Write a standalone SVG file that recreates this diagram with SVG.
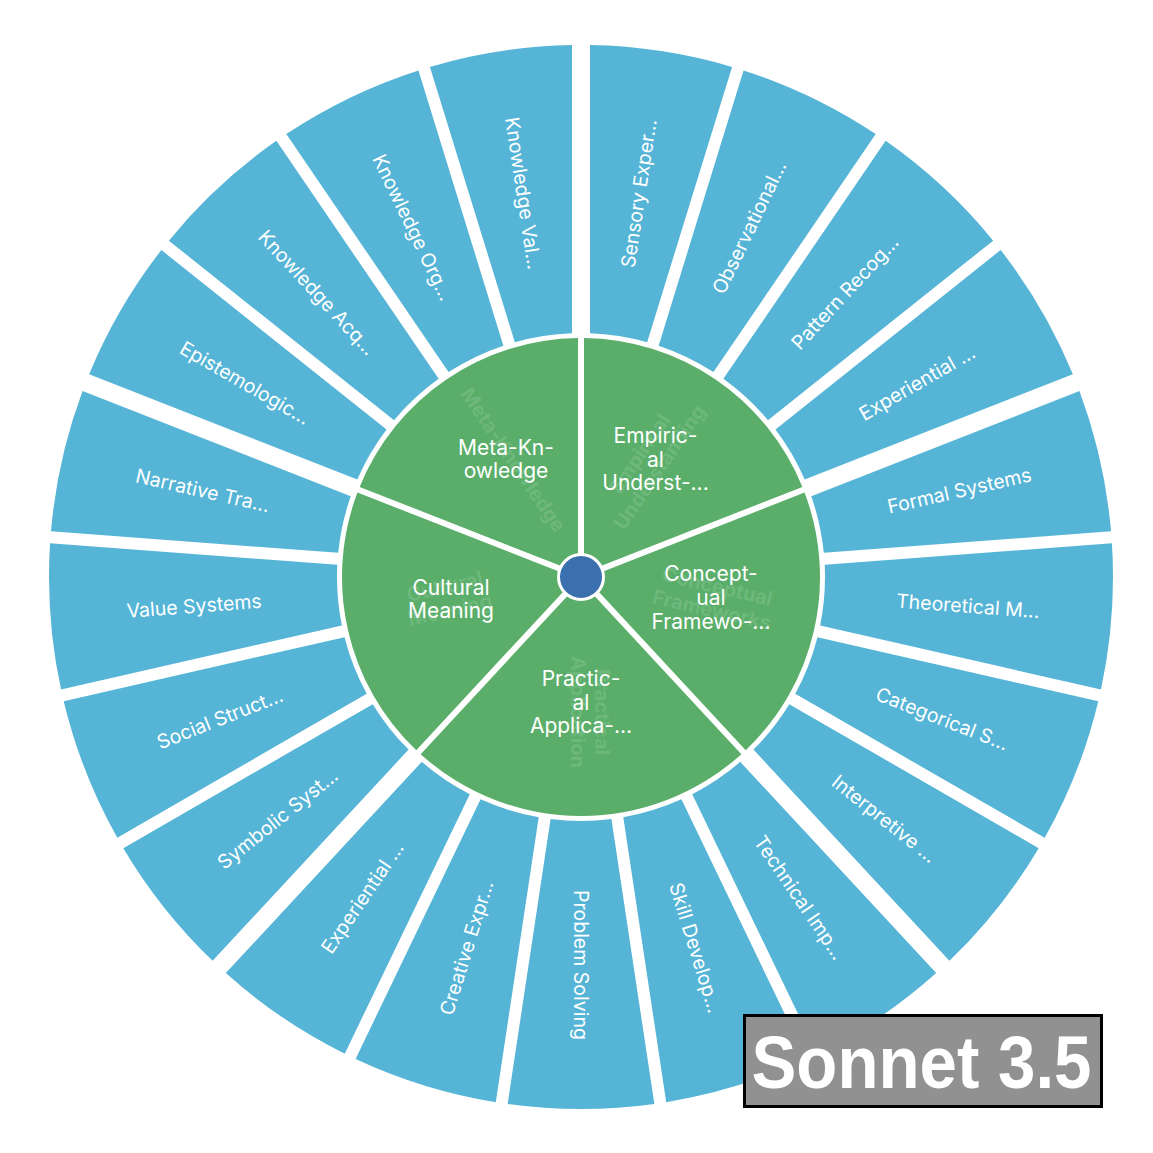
<svg xmlns="http://www.w3.org/2000/svg" width="1153" height="1153" viewBox="0 0 1153 1153">
<style>
.b{fill:#56b5d6}
.g{fill:#5aae6a}
.bl{font-family:Inter,"Noto Sans",sans-serif;font-size:19.5px;fill:#fff;text-anchor:middle}
.gl{font-family:Inter,"Noto Sans",sans-serif;font-size:21px;fill:#fff;text-anchor:middle}
.gh{font-family:Inter,"Noto Sans",sans-serif;font-weight:700;font-size:20px;fill:#fff;fill-opacity:0.12;text-anchor:middle}
</style>
<defs>
<path id="sF" d="M 9 -531.924 A 532 532 0 0 1 151.066 -510.101 L 66.165 -234.858 A 244 244 0 0 0 9 -243.834 Z"/>
<path id="sM" d="M 6 -531.966 A 532 532 0 0 1 151.066 -510.101 L 66.165 -234.858 A 244 244 0 0 0 6 -243.926 Z"/>
<path id="sL" d="M 6 -531.966 A 532 532 0 0 1 148.187 -510.945 L 63.271 -235.654 A 244 244 0 0 0 6 -243.926 Z"/>
<path id="g4" d="M 3 -238.981 A 239 239 0 0 1 221.365 -90.102 L 17.311 -10.017 A 20 20 0 0 0 3 -19.774 Z"/>
<path id="g5" d="M 3 -238.981 A 239 239 0 0 1 238.089 -20.851 L 19.494 -4.469 A 20 20 0 0 0 3 -19.774 Z"/>
</defs>
<rect width="1153" height="1153" fill="#fff"/>
<g transform="translate(581 577)">
<g id="outer-ring">
<g id="n-sensory"><use href="#sF" class="b" transform="rotate(0)"/><text class="bl" dy="0.35em" transform="rotate(8.5714) translate(0 -388) rotate(-90)">Sensory Exper...</text></g>
<g id="n-observational"><use href="#sM" class="b" transform="rotate(17.1429)"/><text class="bl" dy="0.35em" transform="rotate(25.7143) translate(0 -388) rotate(-90)">Observational...</text></g>
<g id="n-pattern"><use href="#sM" class="b" transform="rotate(34.2857)"/><text class="bl" dy="0.35em" transform="rotate(42.8571) translate(0 -388) rotate(-90)">Pattern Recog...</text></g>
<g id="n-experiential1"><use href="#sL" class="b" transform="rotate(51.4286)"/><text class="bl" dy="0.35em" transform="rotate(60) translate(0 -388) rotate(-90)">Experiential ...</text></g>
<g id="n-formal"><use href="#sF" class="b" transform="rotate(68.5714)"/><text class="bl" dy="0.35em" transform="rotate(77.1429) translate(0 -388) rotate(-90)">Formal Systems</text></g>
<g id="n-theoretical"><use href="#sM" class="b" transform="rotate(85.7143)"/><text class="bl" dy="0.35em" transform="rotate(94.2857) translate(0 -388) rotate(-90)">Theoretical M...</text></g>
<g id="n-categorical"><use href="#sM" class="b" transform="rotate(102.8571)"/><text class="bl" dy="0.35em" transform="rotate(111.4286) translate(0 -388) rotate(-90)">Categorical S...</text></g>
<g id="n-interpretive"><use href="#sL" class="b" transform="rotate(120)"/><text class="bl" dy="0.35em" transform="rotate(128.5714) translate(0 -388) rotate(-90)">Interpretive ...</text></g>
<g id="n-technical"><use href="#sF" class="b" transform="rotate(137.1429)"/><text class="bl" dy="0.35em" transform="rotate(145.7143) translate(0 -388) rotate(-90)">Technical Imp...</text></g>
<g id="n-skill"><use href="#sM" class="b" transform="rotate(154.2857)"/><text class="bl" dy="0.35em" transform="rotate(162.8571) translate(0 -388) rotate(-90)">Skill Develop...</text></g>
<g id="n-problem"><use href="#sM" class="b" transform="rotate(171.4286)"/><text class="bl" dy="0.35em" transform="rotate(180) translate(0 -388) rotate(-90)">Problem Solving</text></g>
<g id="n-creative"><use href="#sM" class="b" transform="rotate(188.5714)"/><text class="bl" dy="0.35em" transform="rotate(197.1429) translate(0 -388) rotate(90)">Creative Expr...</text></g>
<g id="n-experiential2"><use href="#sL" class="b" transform="rotate(205.7143)"/><text class="bl" dy="0.35em" transform="rotate(214.2857) translate(0 -388) rotate(90)">Experiential ...</text></g>
<g id="n-symbolic"><use href="#sF" class="b" transform="rotate(222.8571)"/><text class="bl" dy="0.35em" transform="rotate(231.4286) translate(0 -388) rotate(90)">Symbolic Syst...</text></g>
<g id="n-social"><use href="#sM" class="b" transform="rotate(240)"/><text class="bl" dy="0.35em" transform="rotate(248.5714) translate(0 -388) rotate(90)">Social Struct...</text></g>
<g id="n-value"><use href="#sM" class="b" transform="rotate(257.1429)"/><text class="bl" dy="0.35em" transform="rotate(265.7143) translate(0 -388) rotate(90)">Value Systems</text></g>
<g id="n-narrative"><use href="#sL" class="b" transform="rotate(274.2857)"/><text class="bl" dy="0.35em" transform="rotate(282.8571) translate(0 -388) rotate(90)">Narrative Tra...</text></g>
<g id="n-epistemologic"><use href="#sF" class="b" transform="rotate(291.4286)"/><text class="bl" dy="0.35em" transform="rotate(300) translate(0 -388) rotate(90)">Epistemologic...</text></g>
<g id="n-kacq"><use href="#sM" class="b" transform="rotate(308.5714)"/><text class="bl" dy="0.35em" transform="rotate(317.1429) translate(0 -388) rotate(90)">Knowledge Acq...</text></g>
<g id="n-korg"><use href="#sM" class="b" transform="rotate(325.7143)"/><text class="bl" dy="0.35em" transform="rotate(334.2857) translate(0 -388) rotate(90)">Knowledge Org...</text></g>
<g id="n-kval"><use href="#sL" class="b" transform="rotate(342.8571)"/><text class="bl" dy="0.35em" transform="rotate(351.4286) translate(0 -388) rotate(90)">Knowledge Val...</text></g>
</g>
<g id="inner-ring">
<g id="n-empirical"><use href="#g4" class="g" transform="rotate(0)"/><text class="gh" transform="rotate(34.2857) translate(0 -135) rotate(-90)"><tspan x="0" y="-14">Empirical</tspan><tspan x="0" y="10">Understanding</tspan></text></g>
<g id="n-conceptual"><use href="#g4" class="g" transform="rotate(68.5714)"/><text class="gh" transform="rotate(102.8571) translate(0 -135) rotate(-90)"><tspan x="0" y="-14">Conceptual</tspan><tspan x="0" y="10">Frameworks</tspan></text></g>
<g id="n-practical"><use href="#g5" class="g" transform="rotate(137.1429)"/><text class="gh" transform="rotate(180) translate(0 -135) rotate(-90)"><tspan x="0" y="-14">Practical</tspan><tspan x="0" y="10">Application</tspan></text></g>
<g id="n-cultural"><use href="#g4" class="g" transform="rotate(222.8571)"/><text class="gh" transform="rotate(257.1429) translate(0 -135) rotate(90)"><tspan x="0" y="-14">Cultural</tspan><tspan x="0" y="10">Meaning</tspan></text></g>
<g id="n-meta"><use href="#g4" class="g" transform="rotate(291.4286)"/><text class="gh" transform="rotate(325.7143) translate(0 -135) rotate(90)"><tspan x="0" y="-3">Meta-Knowledge</tspan></text></g>
</g>
<g id="n-root"><circle cx="0" cy="0" r="22.5" fill="#3a70ae" stroke="#fff" stroke-width="3"/></g>
</g>
<g id="inner-labels">
<text class="gl"><tspan x="655.5" y="443">Empiric-</tspan><tspan x="655.5" y="466.5">al</tspan><tspan x="655.5" y="490">Underst-...</tspan></text>
<text class="gl"><tspan x="711" y="581">Concept-</tspan><tspan x="711" y="605">ual</tspan><tspan x="711" y="629">Framewo-...</tspan></text>
<text class="gl"><tspan x="581" y="686">Practic-</tspan><tspan x="581" y="709.5">al</tspan><tspan x="581" y="733">Applica-...</tspan></text>
<text class="gl"><tspan x="451" y="594.5">Cultural</tspan><tspan x="451" y="617.5">Meaning</tspan></text>
<text class="gl"><tspan x="506" y="454.5">Meta-Kn-</tspan><tspan x="506" y="478">owledge</tspan></text>
</g>
<g id="badge">
<rect x="744.5" y="1015.5" width="357" height="91" fill="#919191" stroke="#000" stroke-width="3"/>
<text x="751.5" y="1088" font-family="'Liberation Sans',Arial,sans-serif" font-weight="700" font-size="74" fill="#fff" textLength="340" lengthAdjust="spacingAndGlyphs">Sonnet 3.5</text>
</g>
</svg>
